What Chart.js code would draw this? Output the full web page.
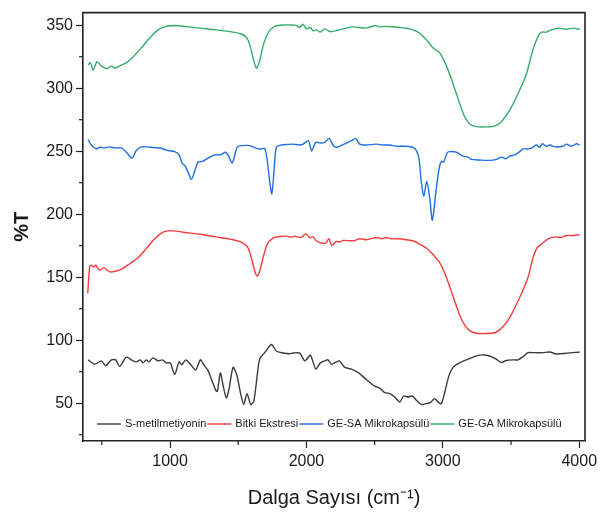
<!DOCTYPE html>
<html>
<head>
<meta charset="utf-8">
<script src="https://cdn.jsdelivr.net/npm/chart.js@4.4.1/dist/chart.umd.min.js"></script>
<style>
  body { margin: 0; background: #fff; }
  #wrap { width: 603px; height: 515px; }
</style>
</head>
<body>
<div id="wrap"><canvas id="myChart"></canvas></div>
<script>
// series names and colours
const seriesNames = ['S-metilmetiyonin', 'Bitki Ekstresi', 'GE-SA Mikrokapsülü', 'GE-GA Mikrokapsülü'];
const seriesColors = ['#3a3a3a', '#f23c3c', '#1f6fe0', '#34ad68'];

// S-metilmetiyonin
const smmX = [399,448,496,529,570,602,631,680,729,753,782,802,826,846,875,912,944,973,1002,1034,1066,1086,1115,1149,1188,1222,1247,1279,1303,1335,1347,1369,1389,1413,1433,1462,1491,1515,1540,1564,1592,1614,1633,1657,1694,1743,1779,1828,1877,1902,1951,1988,2029,2068,2102,2134,2158,2183,2239,2281,2329,2378,2439,2501,2537,2574,2611,2647,2684,2713,2745,2776,2806,2842,2879,2908,2940,2965,2989,3014,3045,3075,3119,3172,3221,3258,3307,3355,3392,3429,3465,3514,3551,3588,3624,3674,3734,3784,3832,3905,4003];
const smmY = [84.4,81.0,83.6,79.7,84.4,84.4,79.2,86.5,83.6,82.8,84.4,82.0,84.4,82.8,86.0,83.6,84.4,82.0,82.0,72.7,82.8,80.5,84.4,81.0,76.3,84.4,80.5,75.8,69.3,60.2,59.4,74.0,64.1,54.2,61.5,78.4,71.9,58.8,49.0,57.6,49.0,51.6,66.6,85.0,90.1,96.6,91.4,89.8,89.3,89.8,89.8,83.6,88.0,77.1,82.0,83.6,84.4,81.0,83.6,78.4,77.1,74.5,68.8,63.5,62.0,58.4,57.6,54.9,51.0,55.7,54.9,55.7,52.3,49.0,49.7,50.5,53.6,51.0,49.7,58.8,71.9,78.4,81.8,84.4,86.5,88.0,88.3,87.0,84.9,82.3,83.9,84.4,84.4,87.0,90.1,90.1,90.1,90.6,89.1,89.6,90.6];

// Bitki Ekstresi
const bitkiX = [397,411,423,440,455,485,514,558,606,655,705,765,826,888,949,998,1095,1218,1339,1462,1535,1572,1596,1621,1638,1657,1682,1711,1755,1804,1853,1889,1914,1963,1995,2024,2048,2072,2109,2141,2165,2185,2219,2244,2268,2342,2391,2439,2488,2525,2549,2586,2622,2684,2732,2781,2830,2879,2928,2977,3026,3075,3124,3160,3197,3246,3319,3380,3429,3490,3564,3624,3661,3690,3722,3771,3820,3869,3905,3954,4003];
const bitkiY = [137.2,158.9,159.6,158.1,159.6,155.5,157.6,154.2,154.9,157.0,160.7,165.4,172.7,180.5,185.7,187.0,185.7,184.1,182.0,179.7,177.1,173.2,165.4,154.9,150.8,154.9,165.4,175.8,181.0,182.3,182.6,181.8,182.6,181.5,184.6,181.5,182.0,178.9,177.1,177.1,180.5,175.2,178.4,177.9,179.2,178.9,180.5,179.7,181.0,181.5,180.5,181.5,180.5,180.5,179.7,178.9,176.3,173.2,168.0,161.5,149.8,134.6,119.8,111.9,107.6,105.5,105.3,105.9,109.4,118.0,134.1,149.8,165.4,173.2,176.3,180.5,182.0,181.5,183.1,183.1,183.6];

// GE-SA Mikrokapsülü
const gesaX = [399,423,460,485,521,558,595,643,680,721,753,790,839,875,936,985,1034,1066,1090,1108,1132,1156,1181,1205,1237,1279,1328,1369,1408,1433,1455,1474,1491,1523,1584,1633,1669,1694,1711,1731,1746,1760,1779,1816,1865,1902,1950,1975,2014,2039,2068,2102,2134,2165,2200,2219,2244,2293,2329,2361,2391,2439,2512,2561,2611,2659,2721,2781,2806,2825,2842,2860,2882,2904,2923,2948,2972,2989,3006,3031,3050,3099,3148,3185,3209,3270,3343,3392,3429,3461,3490,3527,3564,3588,3624,3661,3685,3710,3729,3759,3784,3820,3881,3905,3942,3979,4003];
const gesaY = [259.1,254.9,251.8,253.1,252.6,253.4,252.6,252.6,249.2,244.5,250.5,253.4,253.4,252.9,252.3,250.5,249.7,247.1,240.1,238.8,233.6,227.6,234.1,241.4,241.9,244.5,247.1,247.1,249.2,245.3,240.6,246.6,253.1,254.4,254.4,252.3,251.8,252.3,244.0,225.8,216.1,231.0,253.1,254.9,255.4,255.6,254.9,255.6,258.3,250.2,257.0,256.5,257.0,260.2,254.1,253.1,253.9,256.5,258.3,260.2,255.6,254.9,255.6,254.9,254.9,253.9,253.9,253.1,250.5,244.0,225.8,214.1,225.8,212.8,195.1,216.7,236.2,242.0,241.4,248.7,249.7,249.2,246.1,245.3,243.5,243.0,242.7,243.5,245.3,244.0,246.1,247.1,249.7,251.8,251.8,253.1,254.9,253.1,255.9,253.9,254.9,253.4,253.9,255.6,253.9,255.9,254.9];

// GE-GA Mikrokapsülü
const gegaX = [399,416,436,465,496,538,570,595,631,680,729,790,851,912,973,1034,1095,1218,1339,1462,1523,1559,1584,1608,1633,1657,1682,1718,1767,1828,1889,1926,1951,1975,1999,2029,2048,2072,2102,2134,2171,2195,2244,2293,2342,2439,2501,2537,2586,2684,2757,2818,2867,2904,2928,2977,3026,3075,3124,3160,3197,3246,3319,3380,3429,3490,3551,3612,3661,3698,3722,3759,3795,3857,3905,3954,4003];
const gegaY = [318.5,320.3,314.3,321.1,317.7,315.4,317.7,315.9,317.7,320.3,324.8,332.0,339.8,346.3,349.2,349.8,349.2,347.7,346.3,344.5,343.0,340.4,334.6,324.2,315.9,321.6,333.4,343.8,349.0,350.2,350.2,349.8,348.2,350.8,347.1,348.2,345.5,346.3,344.5,347.1,345.0,345.1,346.3,347.7,348.7,347.7,349.8,348.7,349.0,348.2,347.1,344.5,339.8,335.2,332.0,328.1,317.7,303.4,287.7,277.3,271.6,269.5,269.3,269.9,273.4,282.6,295.6,311.2,330.7,341.1,344.5,344.5,346.3,347.7,346.8,347.7,346.6];

// axis ranges and ticks (labelled ones are the major ticks)
const xRange = [362, 4042];
const yRange = [20, 360];
const xTicks = [500, 1000, 1500, 2000, 2500, 3000, 3500, 4000];
const xLabels = [1000, 2000, 3000, 4000];
const yTicks = [25, 50, 75, 100, 125, 150, 175, 200, 225, 250, 275, 300, 325, 350];
const yLabels = [50, 100, 150, 200, 250, 300, 350];

const allX = [smmX, bitkiX, gesaX, gegaX];
const allY = [smmY, bitkiY, gesaY, gegaY];

function toPoints(xs, ys) {
    const pts = [];
    for (let i = 0; i < xs.length; i++) pts.push({ x: xs[i], y: ys[i] });
    return pts;
}

const datasets = seriesNames.map(function (name, i) {
    return {
        label: name,
        data: toPoints(allX[i], allY[i]),
        borderColor: seriesColors[i],
        borderWidth: 1.4,
        pointRadius: 0,
        tension: 0.25,
        fill: false
    };
});

Chart.defaults.font.family = "'Liberation Sans', Arial, sans-serif";
Chart.defaults.color = '#1a1a1a';

// frame, minor ticks and the legend inside the plot
const extras = {
    id: 'extras',
    afterDraw(chart) {
        const ctx = chart.ctx;
        const a = chart.chartArea;
        ctx.save();
        ctx.strokeStyle = '#222';
        ctx.lineWidth = 1.6;
        ctx.beginPath();
        ctx.moveTo(a.left, a.top);
        ctx.lineTo(a.right, a.top);
        ctx.lineTo(a.right, a.bottom);
        ctx.stroke();

        // minor ticks
        ctx.lineWidth = 1.2;
        const xs = chart.scales.x, ys = chart.scales.y;
        xs.ticks.forEach(function (t) {
            if (xLabels.indexOf(t.value) < 0) {
                const px = xs.getPixelForValue(t.value);
                ctx.beginPath();
                ctx.moveTo(px, a.bottom);
                ctx.lineTo(px, a.bottom + 4);
                ctx.stroke();
            }
        });
        ys.ticks.forEach(function (t) {
            if (yLabels.indexOf(t.value) < 0) {
                const py = ys.getPixelForValue(t.value);
                ctx.beginPath();
                ctx.moveTo(a.left, py);
                ctx.lineTo(a.left - 4, py);
                ctx.stroke();
            }
        });

        // legend
        ctx.font = "11px 'Liberation Sans', Arial, sans-serif";
        ctx.textBaseline = 'middle';
        let lx = a.left + 14;
        const ly = a.bottom - 17;
        chart.data.datasets.forEach(function (ds) {
            ctx.strokeStyle = ds.borderColor;
            ctx.lineWidth = 1.4;
            ctx.beginPath();
            ctx.moveTo(lx, ly);
            ctx.lineTo(lx + 24, ly);
            ctx.stroke();
            lx += 28;
            ctx.fillStyle = '#1a1a1a';
            ctx.fillText(ds.label, lx, ly);
            lx += ctx.measureText(ds.label).width + 1;
        });
        ctx.restore();
    }
};

new Chart('myChart', {
    type: 'line',
    data: { datasets: datasets },
    options: {
        responsive: true,
        maintainAspectRatio: false,
        animation: false,
        layout: { padding: { left: 0, right: 18, top: 6, bottom: 0 } },
        plugins: { legend: { display: false }, tooltip: { enabled: false } },
        scales: {
            x: {
                type: 'linear',
                min: xRange[0],
                max: xRange[1],
                afterBuildTicks(scale) { scale.ticks = xTicks.map(v => ({ value: v })); },
                afterFit(scale) { scale.height = 74; },
                border: { display: true, color: '#222', width: 1.6 },
                grid: {
                    drawOnChartArea: false,
                    drawTicks: true,
                    tickLength: 7,
                    tickWidth: 1.2,
                    tickColor: function (c) { return c.tick && xLabels.indexOf(c.tick.value) >= 0 ? '#222' : 'rgba(0,0,0,0)'; }
                },
                ticks: {
                    maxRotation: 0,
                    autoSkip: false,
                    padding: 4,
                    font: { size: 16 },
                    callback: function (v) { return xLabels.indexOf(v) >= 0 ? String(v) : ''; }
                },
                title: {
                    display: true,
                    text: 'Dalga Sayısı (cm⁻¹)',
                    font: { size: 20 },
                    padding: { top: 0, bottom: 5 }
                }
            },
            y: {
                type: 'linear',
                min: yRange[0],
                max: yRange[1],
                afterBuildTicks(scale) { scale.ticks = yTicks.map(v => ({ value: v })); },
                afterFit(scale) { scale.width = 83; },
                border: { display: true, color: '#222', width: 1.6 },
                grid: {
                    drawOnChartArea: false,
                    drawTicks: true,
                    tickLength: 7,
                    tickWidth: 1.2,
                    tickColor: function (c) { return c.tick && yLabels.indexOf(c.tick.value) >= 0 ? '#222' : 'rgba(0,0,0,0)'; }
                },
                ticks: {
                    autoSkip: false,
                    padding: 3,
                    font: { size: 16 },
                    callback: function (v) { return yLabels.indexOf(v) >= 0 ? String(v) : ''; }
                },
                title: {
                    display: true,
                    text: '%T',
                    font: { size: 20, weight: 'bold' },
                    padding: { top: 10, bottom: 0 }
                }
            }
        }
    },
    plugins: [extras]
});
</script>
</body>
</html>
